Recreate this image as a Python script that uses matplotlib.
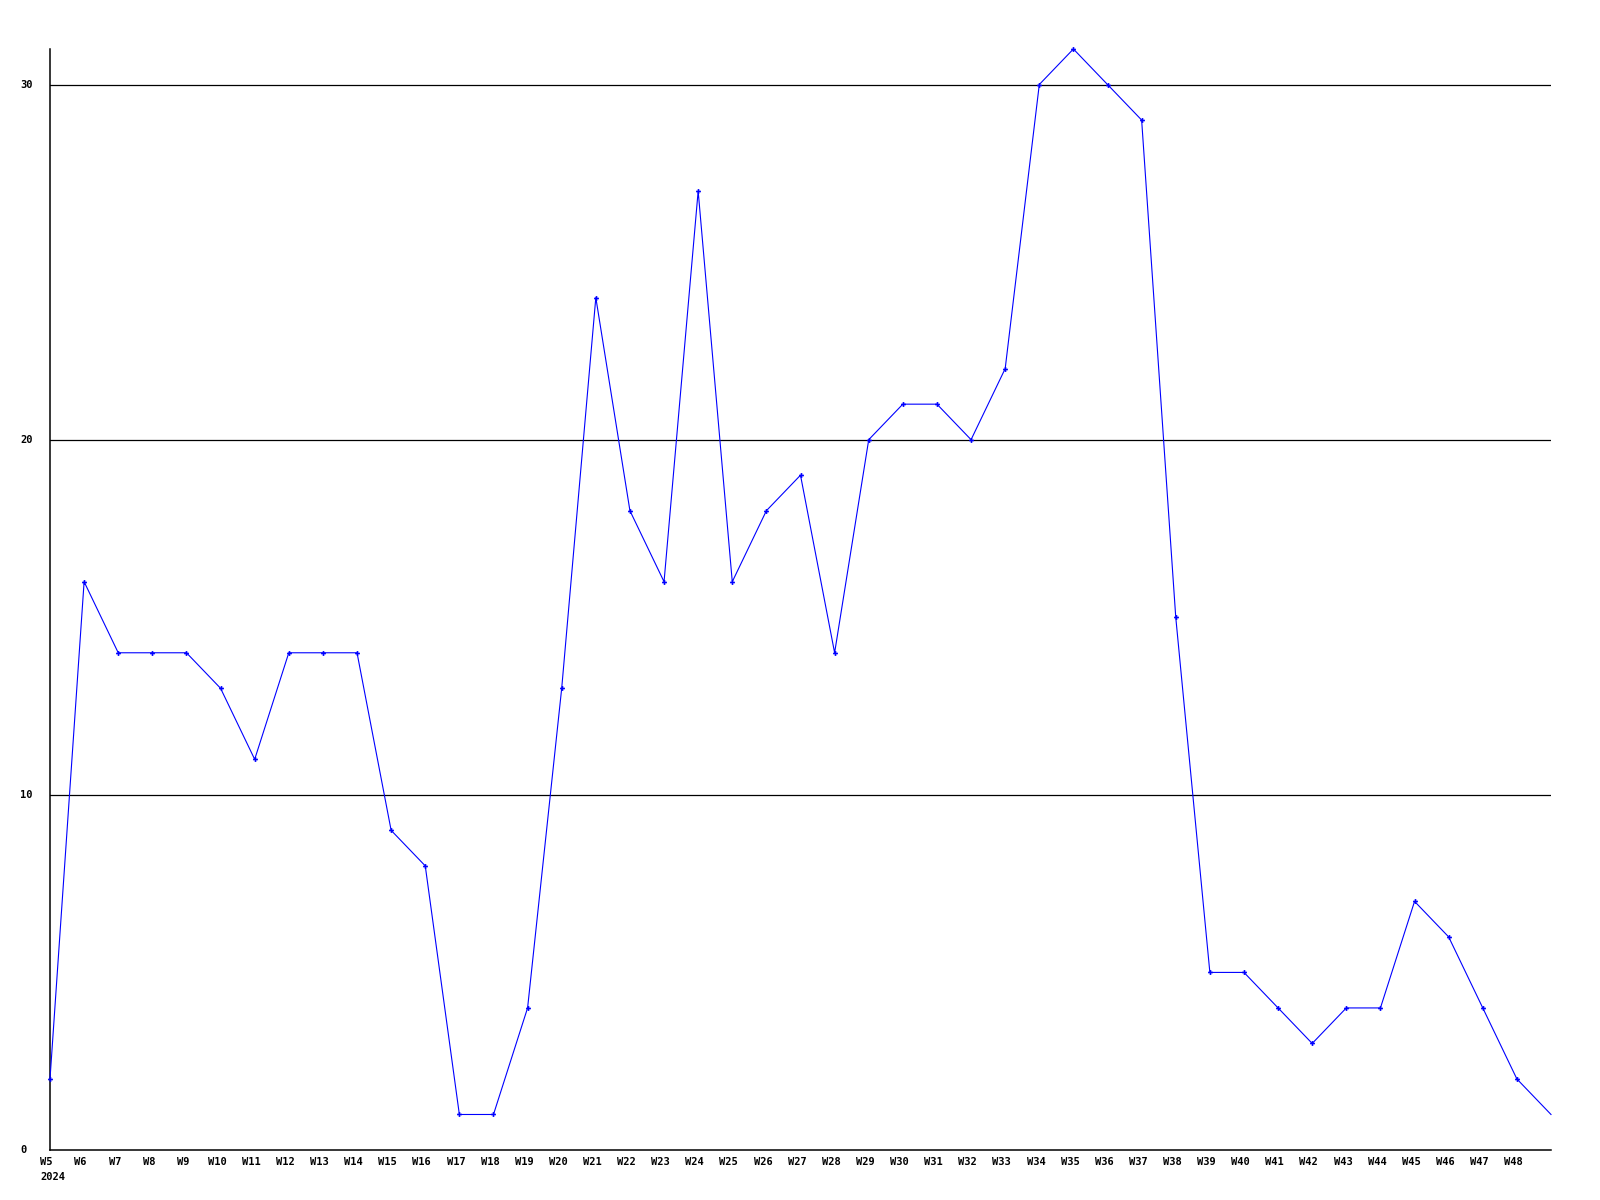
import matplotlib
matplotlib.use("Agg")
import matplotlib.pyplot as plt
from matplotlib.transforms import blended_transform_factory

weeks = list(range(5, 50))
week_labels = ["W%d" % w for w in range(5, 49)]
values = [2, 16, 14, 14, 14, 13, 11, 14, 14, 14, 9, 8, 1, 1, 4, 13, 24, 18, 16, 27,
          16, 18, 19, 14, 20, 21, 21, 20, 22, 30, 31, 30, 29, 15, 5, 5, 4, 3, 4, 4,
          7, 6, 4, 2, 1]
y_ticks = [0, 10, 20, 30]
year_label = "2024"

fig = plt.figure(figsize=(16, 12), dpi=100)
ax = fig.add_axes([50/1600, 1 - 1150/1200, (1551-50)/1600, (1150-49)/1200])
ax.set_xlim(5, 49)
ax.set_ylim(0, 31)

for yv in y_ticks[1:]:
    ax.axhline(yv, color="black", linewidth=0.9, zorder=1)

ax.plot(weeks[:-1], values[:-1], color="#0000ff", linewidth=0.8, marker="P", markersize=3.5,
        markeredgewidth=0, zorder=3, clip_on=False)
ax.plot(weeks[-2:], values[-2:], color="#0000ff", linewidth=0.8, zorder=3, clip_on=False)

for s in ["top", "right"]:
    ax.spines[s].set_visible(False)
for s in ["left", "bottom"]:
    ax.spines[s].set_linewidth(1.1)
    ax.spines[s].set_color("black")
ax.set_xticks([])
ax.set_yticks([])

font = dict(family="DejaVu Sans Mono", fontweight="bold", fontsize=7.5, color="black")
tr_y = blended_transform_factory(fig.transFigure, ax.transData)
for yv in y_ticks:
    ax.text(20/1600, yv, str(yv), transform=tr_y, ha="left", va="center", **font)

tr_x = blended_transform_factory(ax.transData, fig.transFigure)
for w, lab in zip(weeks, week_labels):
    ax.text(w - 0.1, 1 - 1162/1200, lab, transform=tr_x, ha="center", va="center", **font)
ax.text(40/1600, 1 - 1177/1200, year_label, transform=fig.transFigure,
        ha="left", va="center", **font)

fig.savefig("out.png", dpi=100, facecolor="white")
